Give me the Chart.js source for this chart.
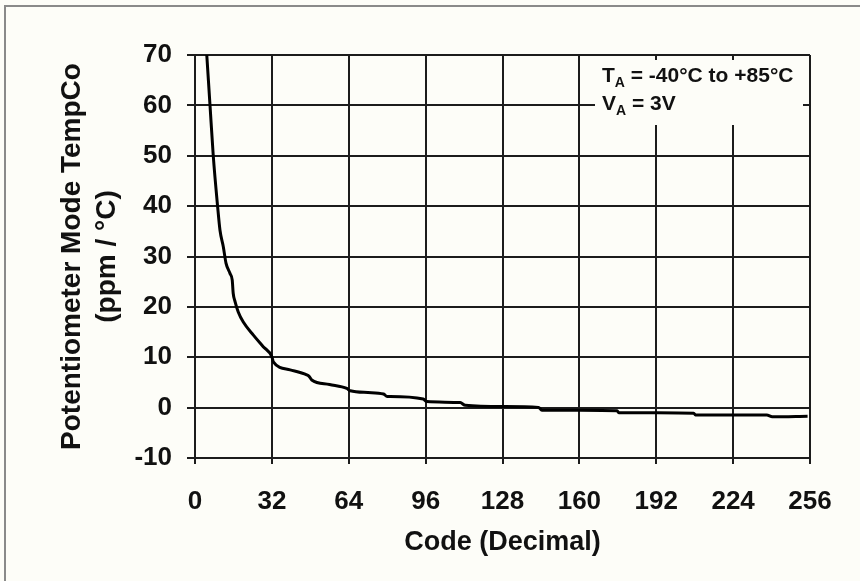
<!DOCTYPE html>
<html>
<head>
<meta charset="utf-8">
<script src="https://cdn.jsdelivr.net/npm/chart.js@4/dist/chart.umd.min.js"></script>
<style>
  body { margin: 0; background: #fdfdf8; }
  canvas { display: block; }
</style>
</head>
<body>
<canvas id="chart" width="860" height="581"></canvas>
<script>
// Data
const codes = [4.9, 6.25, 7.6, 9.4, 10.4, 11.8, 12.9, 14.6, 15.5, 15.9, 16.7, 18.0, 20.1, 24.3, 28.4, 32, 32.6,
  39.6, 46.5, 47.5, 48.6, 56, 63.2, 64.6, 72, 78.5, 80, 81.2, 95, 96.5, 110.4, 112.5, 128.5,
  143, 144.4, 160.4, 175.7, 176.4, 192.4, 207.6, 208.3, 224.3, 238, 240.3, 255];
const tempco = [70, 60, 50, 40, 35.2, 31.9, 28.7, 26.6, 25.3, 22.7, 21.0, 19.0, 17.0, 14.4, 12.1, 10.1, 9.1,
  7.5, 6.5, 6.2, 5.5, 4.6, 3.8, 3.35, 3.0, 2.7, 2.2, 2.2, 1.7, 1.2, 1.0, 0.45, 0.2,
  0.05, -0.5, -0.5, -0.6, -1.0, -1.0, -1.1, -1.45, -1.45, -1.45, -1.8, -1.7];
const xTicks = [0, 32, 64, 96, 128, 160, 192, 224, 256];
const yTicks = [-10, 0, 10, 20, 30, 40, 50, 60, 70];

const FONT = "'Liberation Sans', Arial, sans-serif";
const BG = '#fdfdf8';
const GRID = '#1c1c1c';

// page background and the grey frame round the figure
const framePlugin = {
    id: 'frame',
    beforeDraw(chart) {
        const ctx = chart.ctx;
        ctx.save();
        ctx.fillStyle = BG;
        ctx.fillRect(0, 0, chart.width, chart.height);
        ctx.strokeStyle = '#8a8a8a';
        ctx.lineWidth = 2;
        ctx.beginPath();
        ctx.moveTo(5, chart.height);
        ctx.lineTo(5, 6);
        ctx.lineTo(chart.width, 6);
        ctx.stroke();
        ctx.restore();
    }
};

// condition box in the upper right corner
const notePlugin = {
    id: 'note',
    afterDatasetsDraw(chart) {
        const ctx = chart.ctx;
        const area = chart.chartArea;
        const x0 = area.right - 215;
        const y0 = area.top + 5;
        ctx.save();
        ctx.fillStyle = BG;
        ctx.fillRect(x0, y0, 208, 65);
        ctx.fillStyle = '#111';
        ctx.textBaseline = 'alphabetic';

        function line(main, sub, rest, x, y) {
            ctx.font = 'bold 21px ' + FONT;
            ctx.fillText(main, x, y);
            let w = ctx.measureText(main).width;
            ctx.font = 'bold 14px ' + FONT;
            ctx.fillText(sub, x + w, y + 5);
            w += ctx.measureText(sub).width;
            ctx.font = 'bold 21px ' + FONT;
            ctx.fillText(rest, x + w, y);
        }
        line('T', 'A', ' = -40°C to +85°C', x0 + 7, y0 + 22);
        line('V', 'A', ' = 3V', x0 + 7, y0 + 50);
        ctx.restore();
    }
};

new Chart(document.getElementById('chart'), {
    type: 'scatter',
    data: {
        datasets: [{
            data: codes.map((c, i) => ({ x: c, y: tempco[i] })),
            showLine: true,
            borderColor: '#000',
            borderWidth: 3,
            pointRadius: 0,
            cubicInterpolationMode: 'monotone'
        }]
    },
    options: {
        responsive: false,
        animation: false,
        layout: { padding: { left: 0, top: 55, right: 50, bottom: 0 } },
        plugins: {
            legend: { display: false },
            tooltip: { enabled: false }
        },
        scales: {
            x: {
                type: 'linear',
                min: 0,
                max: 256,
                afterBuildTicks: s => { s.ticks = xTicks.map(v => ({ value: v })); },
                afterFit: s => { s.height = 123; },
                grid: { color: GRID, lineWidth: 2, tickLength: 6 },
                border: { color: GRID, width: 2 },
                ticks: {
                    color: '#111',
                    padding: 22,
                    maxRotation: 0,
                    font: { family: FONT, size: 26, weight: 'bold' }
                },
                title: {
                    display: true,
                    text: 'Code (Decimal)',
                    color: '#111',
                    padding: { top: 0, bottom: 22 },
                    font: { family: FONT, size: 27, weight: 'bold' }
                }
            },
            y: {
                min: -10,
                max: 70,
                afterBuildTicks: s => { s.ticks = yTicks.map(v => ({ value: v })); },
                afterFit: s => { s.width = 195; },
                grid: { color: GRID, lineWidth: 2, tickLength: 8 },
                border: { color: GRID, width: 2 },
                ticks: {
                    color: '#111',
                    padding: 15,
                    font: { family: FONT, size: 26, weight: 'bold' }
                },
                title: {
                    display: true,
                    text: ['Potentiometer Mode TempCo', '(ppm / °C)'],
                    color: '#111',
                    padding: { top: 55, bottom: 0 },
                    font: { family: FONT, size: 28, weight: 'bold', lineHeight: 1.25 }
                }
            }
        }
    },
    plugins: [framePlugin, notePlugin]
});
</script>
</body>
</html>
